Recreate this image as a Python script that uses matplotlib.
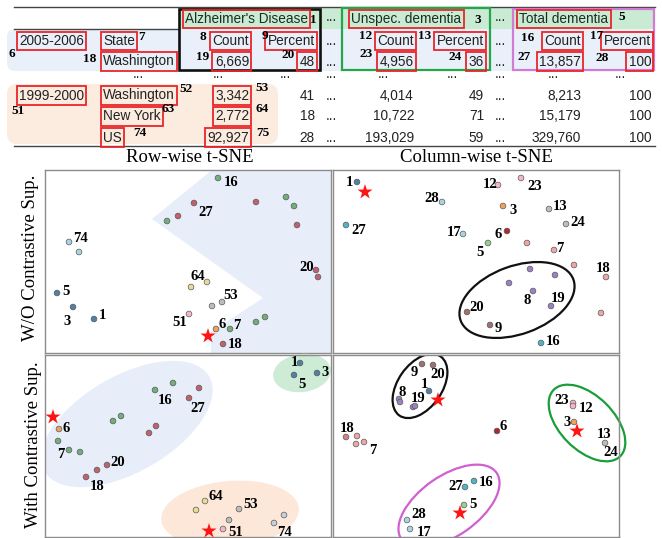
import matplotlib.pyplot as plt
from matplotlib.patches import Rectangle, FancyBboxPatch, Ellipse, Polygon

SANS = 'Liberation Sans'
SERIF = 'Liberation Serif'
RED = '#e8262a'
INK = '#222222'

# ---- table content ----
groups = ["Alzheimer's Disease", "Unspec. dementia", "Total dementia"]
sub_cols = ["Count", "Percent"]
years = ["2005-2006", "1999-2000"]
states = ["Washington", "Washington", "New York", "US"]
alz_count = [6669, 3342, 2772, 92927]
alz_pct = [48, 41, 18, 28]
uns_count = [4956, 4014, 10722, 193029]
uns_pct = [36, 49, 71, 59]
tot_count = [13857, 8213, 15179, 329760]
tot_pct = [100, 100, 100, 100]

# cell ids printed next to the table cells
tab_ids = ['1', '3', '5', '7', '8', '9', '12', '13', '16', '17', '6', '18', '19',
           '20', '23', '24', '27', '28', '51', '52', '53', '63', '64', '74', '75']

# ---- t-SNE embeddings ----
palette = {'g': '#72ae78', 'r': '#c0626e', 'b': '#4f80a8', 'lb': '#a9d4e2',
           'y': '#e6dc98', 'gr': '#bdbdbd', 'pk': '#f1b6c9', 'o': '#eea35a',
           'c': '#4fb5c6', 'sal': '#eda6a8', 'rs': '#d98080', 'dr': '#b3262c',
           'lg': '#9ccf8c', 'pu': '#9b82c2', 'br': '#9c7272', 'sl': '#c7d2d6'}

# row-wise, without contrastive supervision
tl_x = [218, 194, 256, 286, 294, 297, 167, 178, 316, 318, 191, 207, 222, 212, 189,
        216, 230, 256, 265, 223, 69, 79, 57, 73, 94]
tl_y = [178, 203, 202, 197, 206, 225, 221, 216, 270, 277, 287, 282, 302, 306, 314,
        329, 329, 322, 317, 344, 242, 252, 293, 307, 319]
tl_grp = ['g', 'r', 'r', 'g', 'g', 'r', 'g', 'r', 'r', 'r', 'y', 'y', 'gr', 'gr', 'pk',
          'o', 'g', 'g', 'g', 'r', 'lb', 'lb', 'b', 'b', 'b']
tl_star_x, tl_star_y = [208], [336]
tl_lab = ['16', '27', '20', '64', '53', '51', '6', '7', '18', '74', '5', '3', '1']
tl_lab_x = [231, 206, 307, 198, 231, 180, 222, 237, 235, 80, 66, 67, 102]
tl_lab_y = [183, 213, 268, 277, 296, 323, 325, 326, 345, 238, 292, 322, 316]

# column-wise, without contrastive supervision
tr_x = [357, 346, 442, 498, 521, 503, 549, 566, 463, 507, 488, 527, 554, 574, 606,
        601, 530, 555, 509, 533, 551, 467, 490, 541]
tr_y = [182, 225, 202, 185, 178, 206, 209, 224, 234, 231, 243, 243, 250, 265, 277,
        313, 269, 275, 283, 291, 306, 312, 325, 343]
tr_grp = ['b', 'c', 'lb', 'pk', 'pk', 'o', 'gr', 'gr', 'lb', 'dr', 'lg', 'sal', 'sal',
          'sal', 'sal', 'sal', 'pu', 'pu', 'pu', 'pu', 'pu', 'br', 'br', 'c']
tr_star_x, tr_star_y = [365], [192]
tr_lab = ['1', '27', '28', '12', '23', '3', '13', '24', '17', '6', '5', '7', '18',
          '8', '19', '20', '9', '16']
tr_lab_x = [349, 359, 432, 490, 535, 513, 560, 578, 454, 498, 480, 560, 603, 527,
            558, 477, 498, 553]
tr_lab_y = [183, 231, 198, 184, 186, 211, 206, 223, 233, 235, 252, 248, 269, 301,
            299, 308, 329, 342]

# row-wise, with contrastive supervision
bl_x = [155, 173, 199, 189, 113, 121, 156, 149, 59, 58, 69, 80, 107, 97, 86, 300,
        294, 317, 205, 196, 239, 229, 284, 274, 223]
bl_y = [390, 383, 388, 398, 421, 416, 426, 433, 429, 441, 450, 452, 465, 470, 477,
        363, 375, 373, 501, 510, 509, 520, 515, 523, 529]
bl_grp = ['g', 'g', 'r', 'r', 'g', 'g', 'r', 'r', 'o', 'g', 'g', 'g', 'r', 'r', 'r',
          'b', 'b', 'b', 'y', 'y', 'gr', 'gr', 'sl', 'sl', 'pk']
bl_star_x, bl_star_y = [53, 209], [417, 531]
bl_lab = ['16', '27', '6', '7', '20', '18', '1', '5', '3', '64', '53', '51', '74']
bl_lab_x = [165, 198, 66, 61, 118, 97, 294, 302, 325, 216, 251, 236, 284]
bl_lab_y = [400, 409, 428, 454, 462, 487, 363, 384, 373, 497, 504, 533, 533]

# column-wise, with contrastive supervision
br_x = [422, 433, 429, 399, 400, 413, 415, 346, 357, 356, 364, 497, 573, 573, 574,
        605, 465, 474, 464, 407, 410]
br_y = [364, 365, 391, 399, 402, 407, 406, 437, 436, 444, 442, 431, 403, 406, 422,
        443, 487, 481, 505, 520, 529]
br_grp = ['br', 'br', 'b', 'pu', 'pu', 'pu', 'pu', 'rs', 'sal', 'sal', 'sal', 'dr',
          'pk', 'pk', 'o', 'gr', 'c', 'c', 'lg', 'lb', 'lb']
br_star_x, br_star_y = [438, 577, 460], [400, 431, 513]
br_lab = ['9', '20', '1', '8', '19', '18', '7', '6', '23', '12', '3', '13', '24',
          '27', '16', '5', '28', '17']
br_lab_x = [414, 438, 424, 402, 418, 347, 373, 503, 562, 586, 567, 604, 611, 456,
            486, 473, 419, 424]
br_lab_y = [372, 375, 384, 393, 398, 428, 450, 427, 401, 408, 423, 435, 453, 487,
            483, 505, 515, 532]

W, H = 662, 538
fig = plt.figure(figsize=(W / 100, H / 100), dpi=100)

# pixel-space layer for the table, titles and row labels
tab = fig.add_axes([0, 0, 1, 1])
tab.set_xlim(0, W)
tab.set_ylim(H, 0)
tab.axis('off')

# bands and group frames
tab.add_patch(FancyBboxPatch((7, 29), 647, 42, boxstyle='round,pad=0,rounding_size=8',
                             fc='#e9f0f9', ec='none', zorder=0))
tab.add_patch(FancyBboxPatch((7, 84), 271, 60, boxstyle='round,pad=0,rounding_size=10',
                             fc='#fcebdf', ec='none', zorder=0))
tab.add_patch(Rectangle((179, 8), 475, 21, fc='#c9ead3', ec='none', zorder=0))
tab.plot([14, 655], [7, 7], color='#444444', lw=1)
tab.plot([14, 179], [28.5, 28.5], color='#444444', lw=1)
tab.plot([14, 655], [146, 146], color='#444444', lw=1)
frames = [(179, 9, 141, 61, '#111111', 1.9), (342, 8, 148, 62, '#22a84a', 1.6),
          (513, 9, 141, 61, '#d27ad6', 1.6)]
for x0, y0, w, h, ec, lw in frames:
    tab.add_patch(Rectangle((x0, y0), w, h, fc='none', ec=ec, lw=lw, zorder=4))


def cell(x, y, s, ha='left', boxed=False, color=INK):
    kw = {}
    if boxed:
        kw['bbox'] = dict(boxstyle='square,pad=0.18', fc='none', ec=RED, lw=1.3)
    tab.text(x, y, s, ha=ha, va='center', fontsize=9.8, family=SANS, color=color,
             zorder=5, **kw)


col_x = [19, 103, 249, 315, 331, 414, 484, 500, 581, 651]
col_ha = ['left', 'left', 'right', 'right', 'center', 'right', 'right', 'center',
          'right', 'right']
row_y = [62, 96, 117, 138]

# header row
group_x = [185, 351, 519]
for gx, g in zip(group_x, groups):
    cell(gx, 19, g, boxed=True, color='#1c2e20')
cell(331, 17, '...', ha='center')
cell(500, 17, '...', ha='center')

# sub-header row
sub_row = [years[0], 'State'] + sub_cols + ['...'] + sub_cols + ['...'] + sub_cols
for x, ha, s in zip(col_x, col_ha, sub_row):
    cell(x, 41, s, ha=ha, boxed=(s != '...'))

# data rows
for i in range(4):
    vals = ['' if i != 1 else years[1], states[i], f'{alz_count[i]:,}', str(alz_pct[i]),
            '...', f'{uns_count[i]:,}', str(uns_pct[i]), '...', f'{tot_count[i]:,}',
            str(tot_pct[i])]
    if i == 0:
        vals[0] = ''
    for j, (x, ha, s) in enumerate(zip(col_x, col_ha, vals)):
        if not s:
            continue
        boxed = (i == 0 and s != '...') or (i > 0 and j in (0, 1, 2))
        cell(x, row_y[i] - 0.5, s, ha=ha, boxed=boxed)

for x in [138, 218, 285, 331, 383, 452, 500, 553, 620]:
    cell(x, 74, '...', ha='center')

tab_id_x = [313, 478, 622, 142, 203, 265, 366, 425, 528, 597, 12, 90, 203,
            288, 366, 455, 524, 602, 18, 186, 262, 168, 262, 140, 263]
tab_id_y = [20, 20, 17, 37, 37, 36, 36, 36, 38, 36, 54, 59, 57,
            55, 54, 57, 57, 58, 111, 89, 88, 109, 109, 133, 133]
for s, x, y in zip(tab_ids, tab_id_x, tab_id_y):
    tab.text(x, y, s, ha='center', va='center', fontsize=9.5, fontweight='bold',
             family=SERIF, color='black', zorder=6)

# column titles and row titles
tab.text(190, 157, 'Row-wise t-SNE', ha='center', va='center', fontsize=13.5,
         family=SERIF)
tab.text(476, 157, 'Column-wise t-SNE', ha='center', va='center', fontsize=13.5,
         family=SERIF)
tab.text(31, 258, 'W/O Contrastive Sup.', ha='center', va='center', fontsize=13.5,
         family=SERIF, rotation=90)
tab.text(34, 445, 'With Contrastive Sup.', ha='center', va='center', fontsize=13.5,
         family=SERIF, rotation=90)


def panel(l, t, r, b, xs, ys, grp, sx, sy, lab, lx, ly):
    ax = fig.add_axes([l / W, 1 - b / H, (r - l) / W, (b - t) / H])
    ax.set_xlim(l, r)
    ax.set_ylim(b, t)
    ax.set_xticks([])
    ax.set_yticks([])
    for sp in ax.spines.values():
        sp.set_color('#8c8c8c')
        sp.set_linewidth(1)
    ax.patch.set_alpha(0)
    ax.scatter(xs, ys, s=17, c=[palette[g] for g in grp], edgecolors='#5a5a5a',
               linewidths=0.5, zorder=3)
    ax.scatter(sx, sy, s=130, marker='*', c='#ff1414', edgecolors='none', zorder=4,
               clip_on=False)
    for s, x, y in zip(lab, lx, ly):
        ax.text(x, y, s, ha='center', va='center', fontsize=10.5, fontweight='bold',
                family=SERIF, zorder=5, clip_on=False)
    return ax


ax_tl = panel(45, 170, 331, 353, tl_x, tl_y, tl_grp, tl_star_x, tl_star_y,
              tl_lab, tl_lab_x, tl_lab_y)
ax_tl.add_patch(Polygon([(212, 170), (331, 170), (331, 353), (211, 353), (211, 332),
                         (263, 298), (152, 219)], fc='#e7eef9', ec='none', zorder=0))

ax_tr = panel(333, 170, 619, 353, tr_x, tr_y, tr_grp, tr_star_x, tr_star_y,
              tr_lab, tr_lab_x, tr_lab_y)
ax_tr.add_patch(Ellipse((517, 300), 120, 68, angle=-20, fc='none', ec='#111111',
                        lw=1.6, zorder=2))

ax_bl = panel(45, 355, 331, 537, bl_x, bl_y, bl_grp, bl_star_x, bl_star_y,
              bl_lab, bl_lab_x, bl_lab_y)
ax_bl.add_patch(Ellipse((127, 424), 190, 96, angle=-30, fc='#e7eef9', ec='none',
                        zorder=0))
ax_bl.add_patch(Ellipse((302, 373), 58, 38, angle=-8, fc='#cdebd5', ec='none',
                        zorder=0, clip_on=False))
ax_bl.add_patch(Ellipse((230, 514), 138, 66, angle=-5, fc='#fce7d8', ec='none',
                        zorder=0))

ax_br = panel(333, 355, 619, 537, br_x, br_y, br_grp, br_star_x, br_star_y,
              br_lab, br_lab_x, br_lab_y)
ax_br.add_patch(Ellipse((420, 386), 72, 44, angle=-55, fc='none', ec='#111111',
                        lw=1.6, zorder=2))
ax_br.add_patch(Ellipse((587, 423), 94, 54, angle=45, fc='none', ec='#1a9e3a',
                        lw=1.6, zorder=2, clip_on=False))
ax_br.add_patch(Ellipse((449, 506), 116, 60, angle=-35, fc='none', ec='#d05fd0',
                        lw=1.6, zorder=2))

fig.savefig('out.png', dpi=100)
